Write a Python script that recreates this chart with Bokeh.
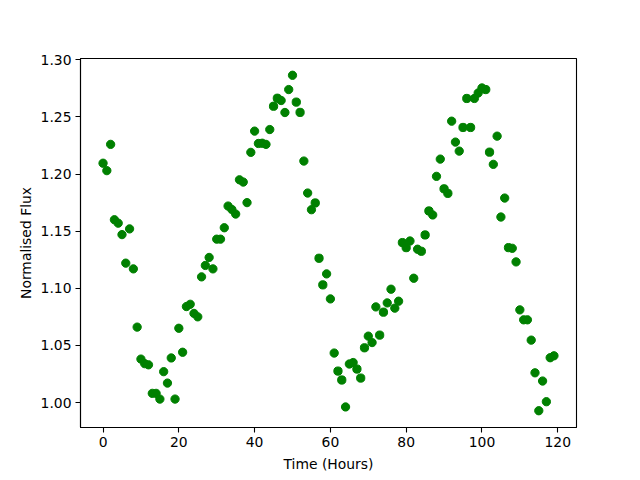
from bokeh.plotting import figure
from bokeh.models import Range1d, FixedTicker, NumeralTickFormatter
from bokeh.embed import file_html
from bokeh.resources import INLINE

hours = list(range(120))
flux = [
    1.2095, 1.203, 1.226, 1.160, 1.157, 1.147, 1.122, 1.152, 1.117, 1.066,
    1.038, 1.034, 1.033, 1.008, 1.008, 1.003, 1.027, 1.017, 1.039, 1.003,
    1.065, 1.044, 1.084, 1.086, 1.078, 1.075, 1.110, 1.120, 1.127, 1.117,
    1.143, 1.143, 1.153, 1.172, 1.169, 1.165, 1.195, 1.193, 1.175, 1.219,
    1.2376, 1.2268, 1.227, 1.226, 1.239, 1.2594, 1.2664, 1.2644, 1.2539, 1.274,
    1.2865, 1.263, 1.254, 1.2114, 1.1834, 1.1688, 1.1747, 1.1263, 1.103, 1.1126,
    1.0907, 1.0433, 1.0275, 1.0197, 0.9961, 1.0337, 1.035, 1.0293, 1.0214, 1.0479,
    1.0581, 1.0525, 1.0837, 1.059, 1.0791, 1.0872, 1.0992, 1.0826, 1.0887, 1.140,
    1.1356, 1.1414, 1.1088, 1.1342, 1.1324, 1.1467, 1.1677, 1.1642, 1.198, 1.2131,
    1.1871, 1.1831, 1.2463, 1.228, 1.2201, 1.2408, 1.2662, 1.2408, 1.2662, 1.271,
    1.2754, 1.274, 1.2192, 1.2085, 1.2332, 1.1624, 1.179, 1.1356, 1.135, 1.1231,
    1.0811, 1.0724, 1.0724, 1.0546, 1.026, 0.9928, 1.0188, 1.0007, 1.0392, 1.0409,
]
x_ticks = [0, 20, 40, 60, 80, 100, 120]
y_ticks = [1.00, 1.05, 1.10, 1.15, 1.20, 1.25, 1.30]

xmin, xmax = min(hours), max(hours)
ymin, ymax = min(flux), max(flux)
xm = 0.05 * (xmax - xmin)
ym = 0.05 * (ymax - ymin)

p = figure(
    output_backend="svg", toolbar_location=None,
    frame_width=496, frame_height=369,
    min_border_left=80, min_border_top=58, min_border_right=56, min_border_bottom=45,
    x_range=Range1d(xmin - xm, xmax + xm), y_range=Range1d(ymin - ym, ymax + ym),
)
p.background_fill_color = "white"
p.border_fill_color = "white"
p.outline_line_color = "black"
p.outline_line_width = 1.1
p.xgrid.visible = False
p.ygrid.visible = False

p.scatter(hours, flux, size=8.3, color="green", line_color="green")

for ax in (p.xaxis[0], p.yaxis[0]):
    ax.major_tick_out = 5
    ax.major_tick_in = 0
    ax.minor_tick_out = 0
    ax.minor_tick_in = 0
    ax.axis_line_width = 1.1
    ax.major_tick_line_width = 1.1
    ax.major_label_text_font = "DejaVu Sans"
    ax.major_label_text_font_size = "13.9px"
    ax.major_label_text_color = "black"
    ax.axis_label_text_font = "DejaVu Sans"
    ax.axis_label_text_font_size = "13.9px"
    ax.axis_label_text_font_style = "normal"
    ax.axis_label_text_color = "black"
    ax.major_label_standoff = 4

p.xaxis.ticker = FixedTicker(ticks=x_ticks)
p.yaxis.ticker = FixedTicker(ticks=y_ticks)
p.yaxis.formatter = NumeralTickFormatter(format="0.00")
p.xaxis.axis_label = "Time (Hours)"
p.yaxis.axis_label = "Normalised Flux"
p.xaxis.axis_label_standoff = 6
p.yaxis.axis_label_standoff = 4

open("out.html", "w").write(file_html(p, INLINE))
